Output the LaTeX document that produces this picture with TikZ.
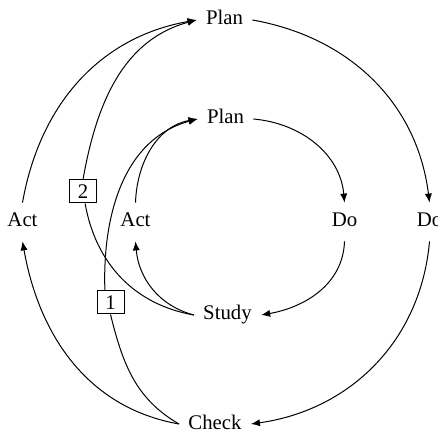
\documentclass[tikz,border=0pt]{standalone}
\usepackage{fontspec}
\setmainfont{Liberation Serif}
\usetikzlibrary{arrows.meta}
\begin{document}
\begin{tikzpicture}[x=0.5pt,y=0.5pt,
  lbl/.style={font=\fontsize{10.4pt}{12pt}\selectfont, inner xsep=4.5pt, inner ysep=5pt, text height=7pt, text depth=2pt},
  numbox/.style={draw, fill=white, line width=0.5pt, minimum width=13.5pt, minimum height=11.5pt, inner sep=0pt, font=\fontsize{10.4pt}{12pt}\selectfont},
  conn/.style={line width=0.5pt, -{Latex[length=4.5pt,width=3.6pt]}},
  link/.style={line width=0.5pt}]
\useasboundingbox (0,0) rectangle (438,433);
% outer cycle
\node[lbl] (oplan) at (224.5,413) {Plan};
\node[lbl] (odo) at (429.5,211) {Do};
\node[lbl] (ocheck) at (215,9) {Check};
\node[lbl] (oact) at (22.5,211) {Act};
% inner cycle
\node[lbl] (iplan) at (225.5,314) {Plan};
\node[lbl] (ido) at (344.5,211) {Do};
\node[lbl] (study) at (227.5,118) {Study};
\node[lbl] (iact) at (135.5,211) {Act};
% boxes
\node[numbox] (b2) at (83,241.5) {2};
\node[numbox] (b1) at (110.5,130.5) {1};
% outer connectors
\draw[conn] (oplan.east) to[out=-10,in=97] (odo.north);
\draw[conn] (odo.south) to[out=-95,in=8] (ocheck.east);
\draw[conn] (ocheck.west) to[out=170,in=-80] (oact.south);
\draw[conn] (oact.north) to[out=80,in=190] (oplan.west);
% inner connectors
\draw[conn] (iplan.east) to[out=-5,in=95] (ido.north);
\draw[conn] (ido.south) to[out=-92,in=10] (study.east);
\draw[conn] (study.west) to[out=165,in=-85] (iact.south);
\draw[conn] (iact.north) to[out=88,in=190] (iplan.west);
% cross links
\draw[link] (study.west) to[out=170,in=-80] (b2.-80);
\draw[conn] (b2.north) to[out=80,in=195] (oplan.west);
\draw[link] (ocheck.west) to[out=150,in=-76] (b1.south);
\draw[conn] (b1.115) to[out=92,in=195] (iplan.west);
\node[numbox] at (b2) {2};
\node[numbox] at (b1) {1};
\end{tikzpicture}
\end{document}
